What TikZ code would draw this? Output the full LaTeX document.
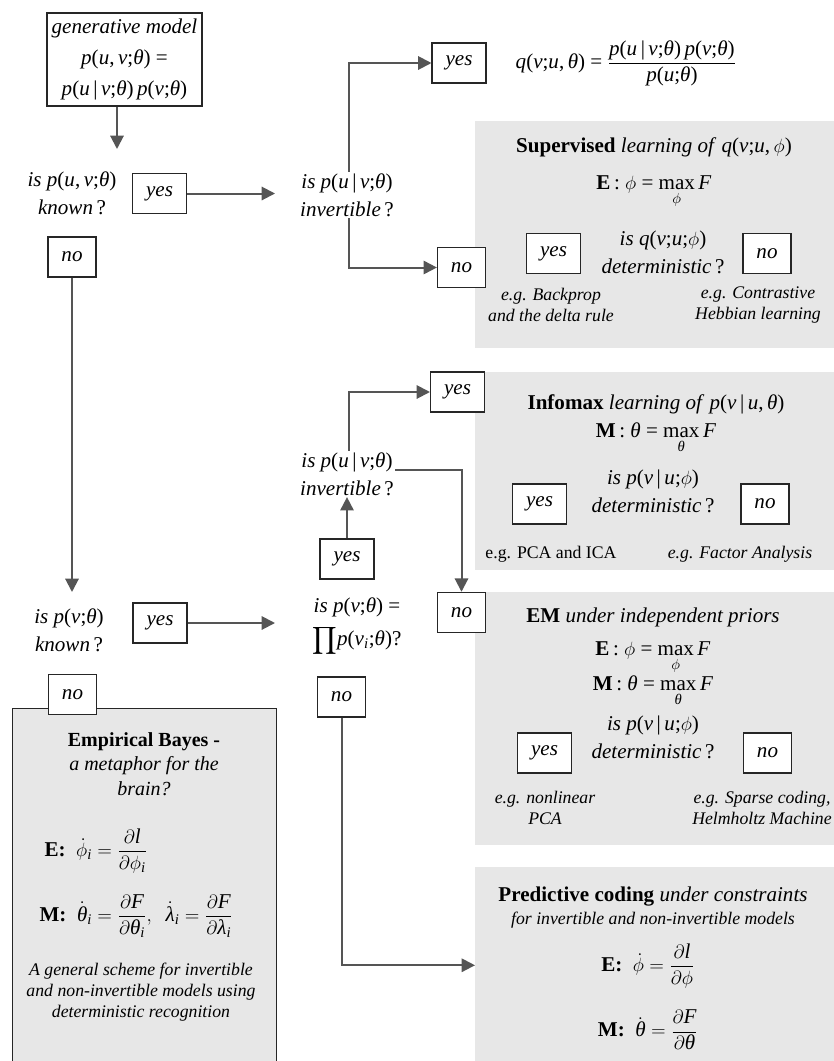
\documentclass[tikz,border=0pt]{standalone}
\usepackage{amsmath}
\usepackage{fontspec}
\setmainfont{Liberation Serif}
\usetikzlibrary{arrows.meta}
\newcommand\I[1]{\textit{#1}}
\newcommand\mi[1]{\text{\itshape #1}}
\newcommand\ph{\ensuremath{\phi}}
\newcommand\msz{\fontsize{15.8}{21}\selectfont}
\newcommand\ssz{\fontsize{13.3}{15.5}\selectfont}
\definecolor{panelgray}{HTML}{E7E7E7}
\definecolor{arrowgray}{HTML}{555555}
\definecolor{boxline}{HTML}{262626}
\tikzset{
  yn/.style={draw=boxline, line width=1.1pt, fill=white, font=\msz\itshape, minimum height=30pt, inner xsep=10pt, inner ysep=0pt},
  arr/.style={draw=arrowgray, line width=1.5pt, -{Triangle[length=10pt,width=10pt]}},
  qtext/.style={align=center, font=\msz, inner sep=1pt},
  smtext/.style={align=center, font=\ssz\itshape, inner sep=1pt},
  panel/.style={fill=panelgray, draw=none, anchor=north west, minimum width=269.25pt, inner sep=0pt},
}
\begin{document}
\begin{tikzpicture}[x=0.75pt, y=-0.75pt]
\fill[white] (0,0) rectangle (834,1061);
\useasboundingbox (0,0) rectangle (834,1061);

% grey panels
\node[panel, minimum height=170.25pt] (S) at (475,121) {};
\node[panel, minimum height=148.5pt] (IM) at (475,372) {};
\node[panel, minimum height=189.75pt] (EM) at (475,592) {};
\node[panel, minimum height=147pt] (P) at (475,867) {};
\node[draw=boxline, line width=1.1pt, fill=panelgray, anchor=north west, minimum width=198pt, minimum height=270pt, inner sep=0pt] (EB) at (12,708) {};

% generative model box
\node[draw=boxline, line width=1.1pt, fill=white, align=center, font=\msz, inner sep=2pt, minimum width=116pt, minimum height=70pt] (gen) at (124.5,59.5)
  {\I{generative model}\\[2pt] \I{p}(\I{u},\,\I{v};\I{θ}) =\\[2pt] \I{p}(\I{u}\,|\,\I{v};\I{θ})\,\I{p}(\I{v};\I{θ})};

% left column
\node[qtext] (q1) at (72,193) {\I{is p}(\I{u},\,\I{v};\I{θ})\\\I{known}\,?};
\node[yn] (yes1) at (159.5,193.5) {yes};
\node[yn] (no1) at (72,257) {no};
\node[qtext] (q2) at (69,630) {\I{is p}(\I{v};\I{θ})\\\I{known}\,?};
\node[yn] (yes2) at (160,623) {yes};
\node[yn] (no2) at (72.5,694.5) {no};
\coordinate (k1) at (117,149);
\coordinate (k2) at (72,592);
\coordinate (k3) at (275,193.5);
\coordinate (k4) at (275,623);

% middle column
\node[qtext] (q3) at (347,195) {\I{is p}(\I{u}\,|\,\I{v};\I{θ})\\\I{invertible}\,?};
\node[yn] (yes3) at (459,63) {yes};
\node[inner sep=1pt, font=\msz] (qf) at (626,63)
  {\I{q}(\I{v};\I{u},\,\I{θ}) = $\dfrac{\text{\I{p}(\I{u}\,|\,\I{v};\I{θ})\,\I{p}(\I{v};\I{θ})}}{\text{\I{p}(\I{u};\I{θ})}}$};
\node[yn] (no3) at (461.5,267.5) {no};

\node[qtext] (q4) at (347,474) {\I{is p}(\I{u}\,|\,\I{v};\I{θ})\\\I{invertible}\,?};
\node[yn] (yes4) at (457.5,392) {yes};
\node[yn] (yes5) at (347,559) {yes};
\node[yn] (no5) at (461.5,612.5) {no};
\node[qtext] (q5) at (357,627) {\I{is p}(\I{v};\I{θ}) =\\[4pt] $\displaystyle\prod$\I{p}(\I{v}$_{\mi{i}}$;\I{θ})?};
\node[yn] (no6) at (341.5,697) {no};

% Supervised panel
\node[qtext] (st) at (654,147) {\textbf{Supervised} \I{learning of} \I{q}(\I{v};\I{u},\,\ph)};
\node[qtext] (se) at (654,192) {\textbf{E}\,:\ \ph\ = $\max\limits_{\phi}$\,\I{F}};
\node[qtext] (sq) at (663,252) {\I{is q}(\I{v};\I{u};\ph)\\\I{deterministic}\,?};
\node[yn] (syes) at (553.5,253.5) {yes};
\node[yn] (sno) at (767,253.5) {no};
\node[smtext] (seg1) at (551,305) {e.g. Backprop\\and the delta rule};
\node[smtext] (seg2) at (758,305) {e.g. Contrastive\\Hebbian learning};

% Infomax panel
\node[qtext] (it) at (656,404) {\textbf{Infomax} \I{learning of} \I{p}(\I{v}\,|\,\I{u},\,\I{θ})};
\node[qtext] (ie) at (656,438) {\textbf{M}\,:\ \I{θ} = $\max\limits_{\mi{θ}}$\,\I{F}};
\node[qtext] (iq) at (653,491) {\I{is p}(\I{v}\,|\,\I{u};\ph)\\\I{deterministic}\,?};
\node[yn] (iyes) at (539.5,504) {yes};
\node[yn] (ino) at (765,504) {no};
\node[align=center, font=\ssz, inner sep=1pt] (ieg1) at (551,554) {e.g. PCA and ICA};
\node[smtext] (ieg2) at (740,554) {e.g. Factor Analysis};

% EM panel
\node[qtext] (et) at (653,617) {\textbf{EM} \I{under independent priors}};
\node[qtext] (ee) at (653,658) {\textbf{E}\,:\ \ph\ = $\max\limits_{\phi}$\,\I{F}};
\node[qtext] (em) at (653,691) {\textbf{M}\,:\ \I{θ} = $\max\limits_{\mi{θ}}$\,\I{F}};
\node[qtext] (eq) at (653,737) {\I{is p}(\I{v}\,|\,\I{u};\ph)\\\I{deterministic}\,?};
\node[yn] (eyes) at (544.5,753) {yes};
\node[yn] (eno) at (767.5,753) {no};
\node[smtext] (eeg1) at (545,808) {e.g. nonlinear\\PCA};
\node[smtext] (eeg2) at (762,808) {e.g. Sparse coding,\\Helmholtz Machine};

% Predictive coding panel
\node[qtext] (pt) at (653,897) {\textbf{Predictive coding} \I{under constraints}};
\node[smtext] (ps) at (653,920) {for invertible and non-invertible models};
\node[qtext] (pe) at (648,966) {\textbf{E:}\enskip $\dot{\phi} = \dfrac{\partial\mi{l}}{\partial\phi}$};
\node[qtext] (pm) at (648,1030) {\textbf{M:}\enskip $\dot{\mi{θ}} = \dfrac{\partial\mi{F}}{\partial\mi{θ}}$};

% Empirical Bayes box
\node[align=center, font=\fontsize{15}{18.5}\selectfont, inner sep=1pt] (ebt) at (144,764) {\textbf{Empirical Bayes -}\\\I{a metaphor for the}\\\I{brain?}};
\node[qtext, anchor=west] (ebe) at (43,851) {\textbf{E:}\enskip $\dot{\phi}_{\mi{i}} = \dfrac{\partial\mi{l}}{\partial\phi_{\mi{i}}}$};
\node[qtext, anchor=west] (ebm) at (38,916) {\textbf{M:}\enskip $\dot{\mi{θ}}_{\mi{i}} = \dfrac{\partial\mi{F}}{\partial\mi{θ}_{\mi{i}}},\ \ \dot{\mi{λ}}_{\mi{i}} = \dfrac{\partial\mi{F}}{\partial\mi{λ}_{\mi{i}}}$};
\node[smtext] (ebd) at (141,992) {A general scheme for invertible\\and non-invertible models using\\deterministic recognition};

% connectors
\draw[arr] (gen.south -| k1) -- (k1);
\draw[arr] (yes1.east) -- (k3);
\draw[arr] (no1.south) -- (k2);
\draw[arr] (yes2.east) -- (k4);
\draw[arr] ([xshift=1.5pt]q3.north) |- (yes3.west);
\draw[arr] ([xshift=1.5pt]q3.south) |- (no3.west);
\draw[arr] ([xshift=1.5pt]q4.north) |- (yes4.west);
\draw[arr] ([yshift=3pt]q4.east) -| (no5.north);
\draw[arr] (yes5.north) -- (yes5.north |- q4.south);
\draw[arr] (no6.south) |- (P.west);
\end{tikzpicture}
\end{document}
